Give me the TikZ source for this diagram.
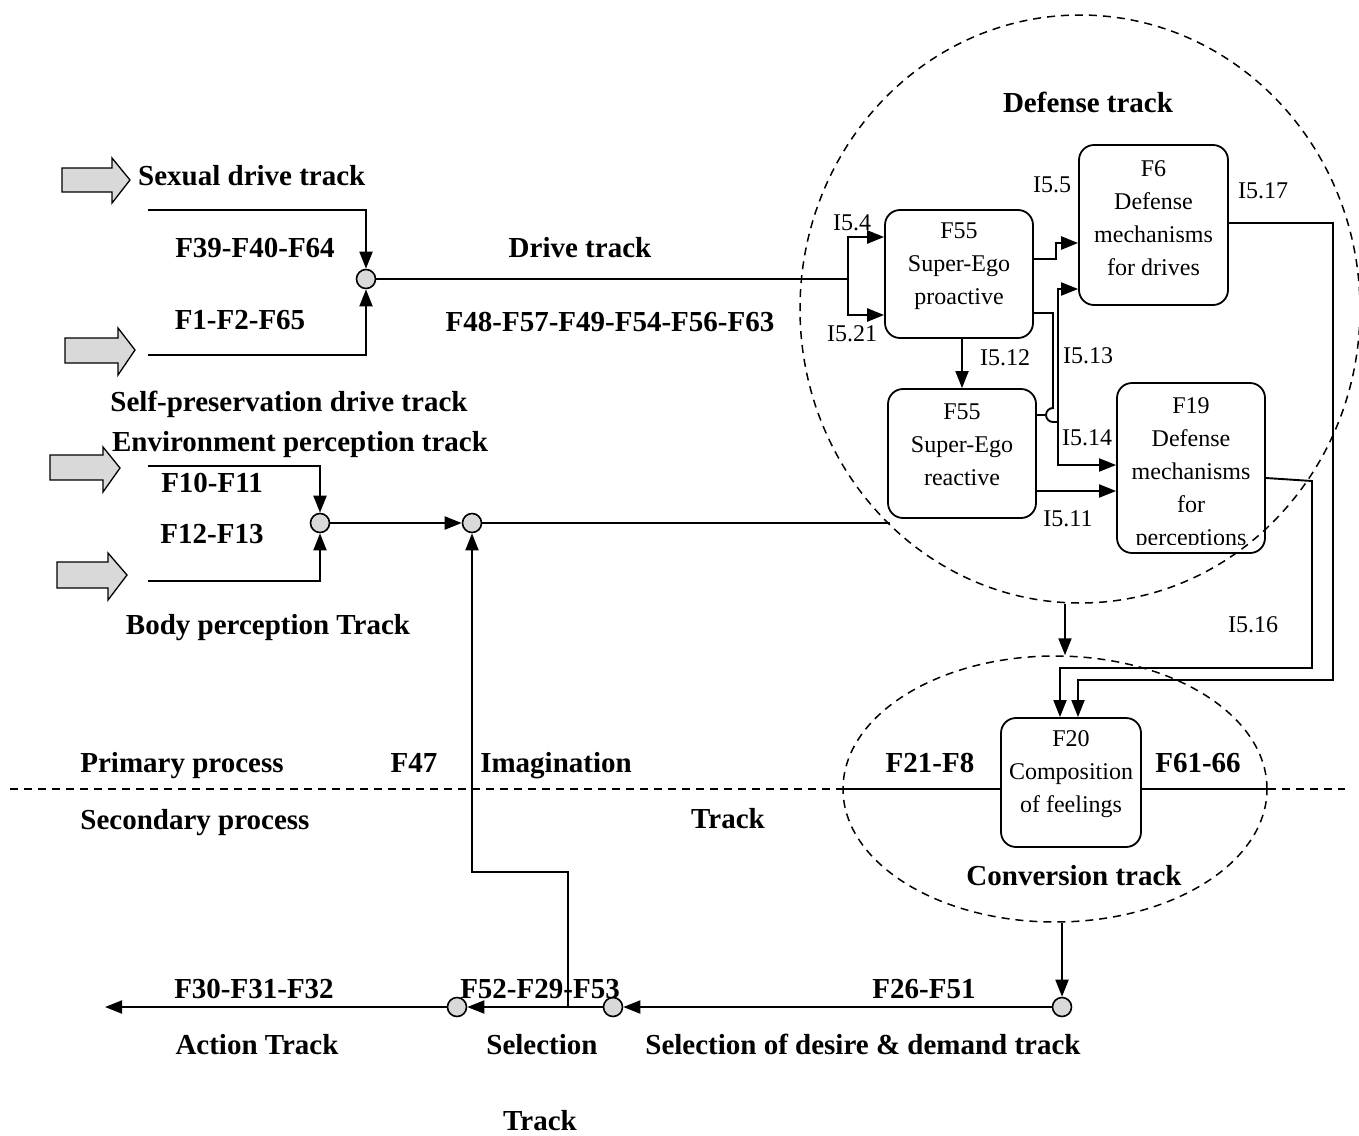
\documentclass[tikz,border=0pt]{standalone}
\usepackage{fontspec}
\setmainfont{Liberation Serif}
\usetikzlibrary{arrows.meta,shapes.geometric}

\begin{document}
\begin{tikzpicture}[x=1pt,y=-1pt,
  conn/.style={line width=1.9pt},
  arr/.style={conn,-{Triangle[length=17pt,width=13pt]}},
  hub/.style={circle,draw,line width=1.6pt,fill=gray!30,minimum size=19pt,inner sep=0pt},
  box/.style={draw,line width=1.8pt,rounded corners=15pt,inner sep=0pt},
  boxtext/.style={align=center,font=\fontsize{24}{33}\selectfont,inner sep=0pt},
  lbl/.style={font=\fontsize{29}{33}\selectfont\bfseries,inner sep=0pt,text height=19pt,text depth=0pt},
  ilbl/.style={font=\fontsize{24}{28}\selectfont,inner sep=0pt,text height=16pt,text depth=0pt},
  track/.style={line width=1.5pt,dash pattern=on 8pt off 6pt},
  bigarrow/.style={draw,line width=1.3pt,fill=gray!30,line join=miter}
]
\useasboundingbox (0,0) rectangle (1359,1135);

% ---- input block arrows ----
\path[bigarrow] (62,168) -- (112,168) -- (112,158) -- (130,180) -- (112,203) -- (112,192) -- (62,192) -- cycle;
\path[bigarrow] (65,338) -- (118,338) -- (118,328) -- (135,350) -- (118,375) -- (118,363) -- (65,363) -- cycle;
\path[bigarrow] (50,455) -- (103,455) -- (103,447) -- (120,468) -- (103,492) -- (103,480) -- (50,480) -- cycle;
\path[bigarrow] (57,562) -- (108,562) -- (108,553) -- (127,575) -- (108,600) -- (108,588) -- (57,588) -- cycle;

% ---- dashed track regions ----
\node[draw,track,ellipse,minimum width=560pt,minimum height=588pt,inner sep=0pt] (defense) at (1080,309) {};
\node[draw,track,ellipse,minimum width=424pt,minimum height=266pt,inner sep=0pt] (conv) at (1055,789) {};

% ---- function boxes ----
\node[box,minimum width=148pt,minimum height=128pt] (F55p) at (959,274) {};
\node[boxtext] (F55pt) at (959,266) {F55\\Super-Ego\\proactive};
\node[box,minimum width=149pt,minimum height=160pt] (F6) at (1153.5,225) {};
\node[boxtext] (F6t) at (1153.5,218.5) {F6\\Defense\\mechanisms\\for drives};
\node[box,minimum width=148pt,minimum height=129pt] (F55r) at (962,453.5) {};
\node[boxtext] (F55rt) at (962,445) {F55\\Super-Ego\\reactive};
\node[box,minimum width=148pt,minimum height=170pt] (F19) at (1191,468) {};
\begin{scope}
  \clip (1117,383) rectangle (1265,544);
  \node[boxtext] (F19t) at (1191,474) {F19\\Defense\\mechanisms\\for\\perceptions};
\end{scope}
\node[box,minimum width=140pt,minimum height=129pt] (F20) at (1071,782.5) {};
\node[boxtext] (F20t) at (1071,774) {F20\\Composition\\of feelings};

% ---- junction hubs ----
\node[hub] (h1) at (366,279) {};
\node[hub] (h2a) at (320,523) {};
\node[hub] (h2b) at (472,523) {};
\node[hub] (h3) at (457,1007) {};
\node[hub] (h4) at (613,1007) {};
\node[hub] (h5) at (1062,1007) {};
\coordinate (out) at (105,1007);
\coordinate (imgbase) at (568,1007);
\coordinate (dsplit) at (802,279);
\coordinate (dfork) at (848,279);
\coordinate (hop) at (1058,422);

% ---- drive tracks ----
\draw[arr] (148,210) -| (h1);
\draw[arr] (148,355) -| (h1);
\draw[line width=1.5pt] (h1) -- (dsplit);
\draw[line width=2.6pt] (dsplit) -- (dfork);
\draw[arr,line width=2.6pt] (dfork) |- (F55p.west |- 0,237);
\draw[arr,line width=2.6pt] (dfork) |- (F55p.west |- 0,315);

% ---- perception tracks ----
\draw[arr] (148,466) -| (h2a);
\draw[arr] (148,581) -| (h2a);
\draw[arr] (h2a) -- (h2b);
\draw[line width=1.5pt] (h2b) -- (890,523);

% ---- defense track connections ----
\draw[arr,line width=2.4pt] (F55p.east |- 0,259) -- (1056,259) -- (1056,243) -- (F6.west |- 0,243);
\draw[arr] (F55p.east |- 0,313) -- (1053,313) -- (1053,408) arc[start angle=90,end angle=270,radius=7pt] -- (hop) -- (1058,465) -- (F19.west |- 0,465);
\draw[conn] (F55r.east |- 0,415) -- (1046,415);
\draw[arr] (hop) -- (1058,289) -- (F6.west |- 0,289);
\draw[arr] (F55p.south -| F55r.north) -- (F55r.north);
\draw[arr] (F55r.east |- 0,491) -- (F19.west |- 0,491);
\draw[arr] (F6.east |- 0,223) -- (1333,223) -- (1333,680) -- (1078,680) -- (F20.north -| 1078,0);
\draw[arr] (F19.east |- 0,478) -- (1312,481) -- (1312,668) -- (1060,668) -- (F20.north -| 1060,0);
\draw[arr] (defense.south -| 1065,0) -- (conv.north -| 1065,0);

% ---- primary / secondary process divide ----
\draw[track] (10,789) -- (conv.west);
\draw[line width=1.5pt] (conv.west) -- (F20.west |- conv.west);
\draw[line width=1.5pt] (F20.east |- conv.east) -- (conv.east);
\draw[track] (conv.east) -- (1345,789);

% ---- secondary process tracks ----
\draw[arr] (h5 |- conv.south) -- (h5);
\draw[arr] (h5) -- (h4);
\draw[arr] (h4) -- (h3);
\draw[arr] (h3) -- (out);
\draw[arr] (imgbase) -- (568,872) -- (472,872) -- (h2b);

% ---- bold track labels ----
\node[lbl,anchor=west] (tSex) at (138,176) {Sexual drive track};
\node[lbl] (tF39) at (255,248) {F39-F40-F64};
\node[lbl] (tF1) at (240,320) {F1-F2-F65};
\node[lbl] (tDrive) at (580,248) {Drive track};
\node[lbl] (tF48) at (610,322) {F48-F57-F49-F54-F56-F63};
\node[lbl] (tSelf) at (289,402) {Self-preservation drive track};
\node[lbl] (tEnv) at (300,442) {Environment perception track};
\node[lbl] (tF10) at (212,483) {F10-F11};
\node[lbl] (tF12) at (212,534) {F12-F13};
\node[lbl] (tBody) at (268,625) {Body perception Track};
\node[lbl] (tDef) at (1088,103) {Defense track};
\node[lbl] (tPrim) at (182,763) {Primary process};
\node[lbl] (tF47) at (414,763) {F47};
\node[lbl] (tImg) at (556,763) {Imagination};
\node[lbl] (tSec) at (195,820) {Secondary process};
\node[lbl] (tImgT) at (728,819) {Track};
\node[lbl] (tF21) at (930,763) {F21-F8};
\node[lbl] (tF61) at (1198,763) {F61-66};
\node[lbl] (tConv) at (1074,876) {Conversion track};
\node[lbl] (tF30) at (254,989) {F30-F31-F32};
\node[lbl] (tF52) at (540,989) {F52-F29-F53};
\node[lbl] (tF26) at (924,989) {F26-F51};
\node[lbl] (tAct) at (257,1045) {Action Track};
\node[lbl] (tSel) at (542,1045) {Selection};
\node[lbl] (tDes) at (863,1045) {Selection of desire \& demand track};
\node[lbl] (tSelT) at (540,1121) {Track};

% ---- interface labels ----
\node[ilbl] (i54) at (852,222) {I5.4};
\node[ilbl] (i521) at (852,333) {I5.21};
\node[ilbl] (i55) at (1052,184) {I5.5};
\node[ilbl] (i517) at (1263,190) {I5.17};
\node[ilbl] (i512) at (1005,357) {I5.12};
\node[ilbl] (i513) at (1088,355) {I5.13};
\node[ilbl] (i514) at (1087,437) {I5.14};
\node[ilbl] (i511) at (1068,518) {I5.11};
\node[ilbl] (i516) at (1253,624) {I5.16};
\end{tikzpicture}
\end{document}
